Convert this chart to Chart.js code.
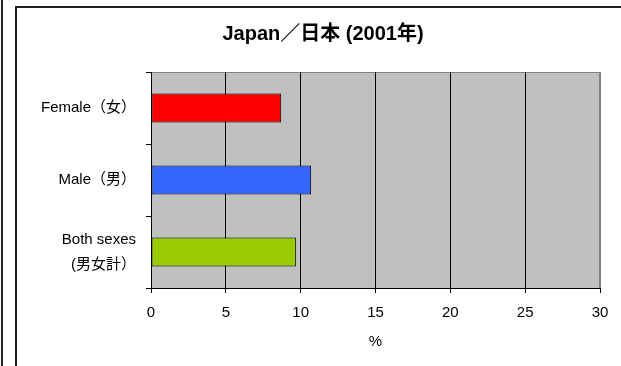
<!DOCTYPE html>
<html>
<head>
<meta charset="utf-8">
<script src="https://cdn.jsdelivr.net/npm/chart.js@4"></script>
<style>
    html, body { margin: 0; padding: 0; background: #fff; }
    #wrap { width: 621px; height: 366px; position: relative; }
</style>
</head>
<body>
<div id="wrap"><canvas id="rateChart"></canvas></div>
<script>
// 카테고리 / 값
let categories = [['Female（女）'], ['Male（男）'], ['Both sexes', '(男女計）']];
let rates = [8.7, 10.7, 9.7];
let barColors = ['#ff0000', '#3366ff', '#99cc00'];
let xTicks = [0, 5, 10, 15, 20, 25, 30];

let fontFamily = '"Liberation Sans", Arial, "Noto Sans CJK JP", sans-serif';

// 바깥 테두리 + 회색 플롯 배경
const frame = {
    id: 'frame',
    afterLayout(chart) {
        // 제목을 오른쪽으로 조금 이동
        if (chart.titleBlock) {
            chart.titleBlock.left = 46;
            chart.titleBlock.right = 600;
        }
    },
    beforeDraw(chart) {
        let c = chart.ctx;
        let a = chart.chartArea;
        c.save();
        c.fillStyle = '#fff';
        c.fillRect(0, 0, chart.width, chart.height);

        c.strokeStyle = '#222';
        c.lineWidth = 2;
        c.beginPath();
        c.moveTo(2, 0); c.lineTo(2, chart.height);
        c.moveTo(16, chart.height); c.lineTo(16, 7); c.lineTo(chart.width, 7);
        c.stroke();

        c.fillStyle = '#c0c0c0';
        c.fillRect(a.left, a.top, a.right - a.left, a.bottom - a.top);
        c.strokeStyle = '#808080';
        c.lineWidth = 1;
        c.strokeRect(a.left + 0.5, a.top + 0.5, a.right - a.left - 1, a.bottom - a.top);
        c.restore();
    }
};

document.addEventListener('DOMContentLoaded', function() {
    let ctx = document.getElementById('rateChart').getContext('2d');

    new Chart(ctx, {
        type: 'bar',
        data: {
            labels: categories,
            datasets: [{
                data: rates,
                backgroundColor: barColors,
                borderColor: '#000',
                borderWidth: 1,
                borderSkipped: false,
                barPercentage: 0.5,
                categoryPercentage: 0.8
            }]
        },
        options: {
            indexAxis: 'y',
            responsive: true,
            maintainAspectRatio: false,
            animation: false,
            layout: {
                padding: { left: 0, right: 21, top: 0, bottom: 0 }
            },
            scales: {
                x: {
                    min: 0,
                    max: 30,
                    afterBuildTicks: scale => {
                        scale.ticks = xTicks.map(v => ({ value: v }));
                    },
                    afterFit: scale => { scale.height = 78; },
                    grid: {
                        color: c => (c.tick && c.tick.value === 30) ? '#808080' : '#000',
                        tickColor: '#000',
                        tickLength: 5,
                        lineWidth: 1
                    },
                    border: { display: true, color: '#000', width: 1 },
                    ticks: {
                        color: '#000',
                        padding: 11,
                        maxRotation: 0,
                        font: { family: fontFamily, size: 15 }
                    },
                    title: {
                        display: true,
                        text: '%',
                        color: '#000',
                        padding: { top: 0, bottom: 15 },
                        font: { family: fontFamily, size: 15 }
                    }
                },
                y: {
                    afterFit: scale => { scale.width = 151; },
                    grid: {
                        offset: true,
                        drawOnChartArea: false,
                        tickColor: '#000',
                        tickLength: 5
                    },
                    border: { display: true, color: '#000', width: 1 },
                    ticks: {
                        color: '#000',
                        padding: 10,
                        font: { family: fontFamily, size: 15, lineHeight: 1.67 }
                    }
                }
            },
            plugins: {
                legend: { display: false },
                tooltip: { enabled: false },
                title: {
                    display: true,
                    text: 'Japan／日本 (2001年)',
                    color: '#000',
                    padding: { top: 22, bottom: 26 },
                    font: { family: fontFamily, size: 20, weight: 'bold' }
                }
            }
        },
        plugins: [frame]
    });
});
</script>
</body>
</html>
